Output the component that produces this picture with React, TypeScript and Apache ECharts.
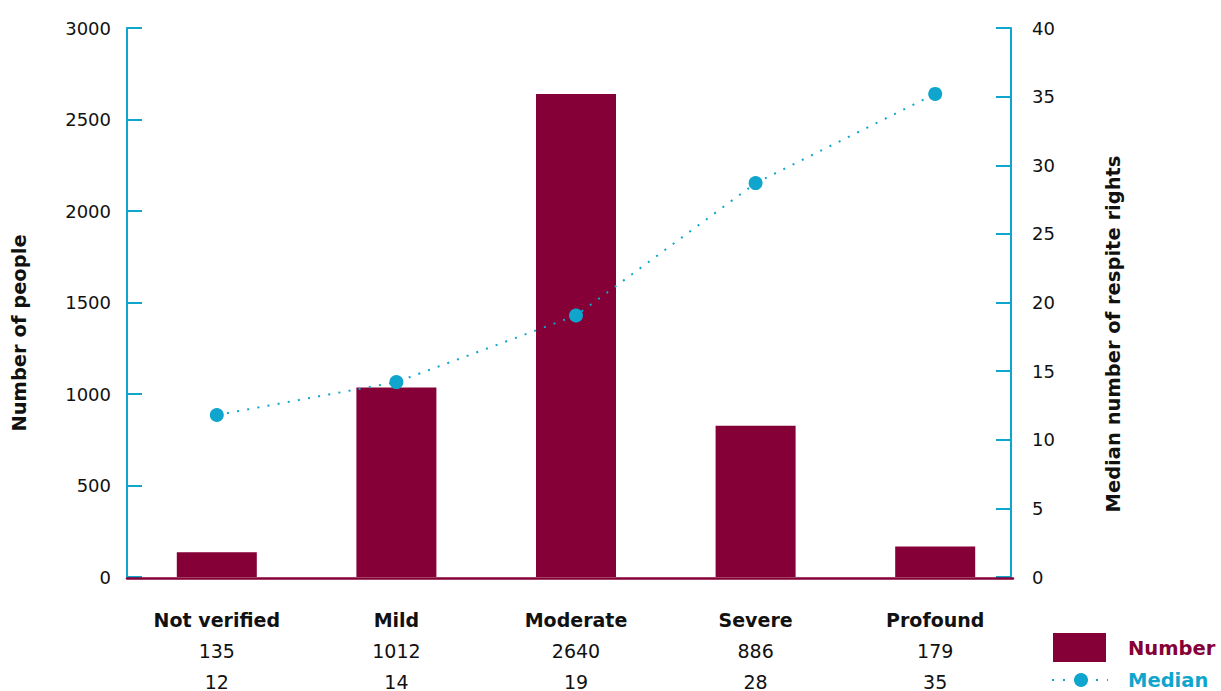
import React, { useEffect, useRef } from "react";
import * as echarts from "echarts";

const categories = ["Not verified", "Mild", "Moderate", "Severe", "Profound"];
// values printed in the table beneath the chart
const peopleCounts = [135, 1012, 2640, 886, 179];
const medianRights = [12, 14, 19, 28, 35];
// heights as drawn in the chart
const barHeights = [135, 1035, 2640, 826, 167];
const medianPoints = [11.8, 14.2, 19.05, 28.7, 35.2];
const leftTicks = [0, 500, 1000, 1500, 2000, 2500, 3000];
const rightTicks = [0, 5, 10, 15, 20, 25, 30, 35, 40];

const MAROON = "#840036";
const TEAL = "#0FA5CC";
const FONT = "'DejaVu Sans', Verdana, sans-serif";

export default function App() {
  const ref = useRef<HTMLDivElement>(null);
  useEffect(() => {
    if (!ref.current) return;
    const chart = echarts.init(ref.current, null, { renderer: "svg" });
    const axisCommon = {
      type: "value" as const,
      splitLine: { show: false },
      axisLine: { show: true, lineStyle: { color: TEAL, width: 2 } },
      axisTick: { show: true, inside: true, length: 15, lineStyle: { color: TEAL, width: 2 } },
    };
    chart.setOption({
      animation: false,
      textStyle: { fontFamily: FONT },
      grid: [
        { left: 127, right: 196, top: 28, bottom: 113, containLabel: false },
        { left: 127, right: 208, top: 28, bottom: 113, containLabel: false },
      ],
      xAxis: [
        {
          type: "category",
          gridIndex: 0,
          data: categories,
          axisLine: { show: false },
          axisTick: { show: false },
          axisLabel: {
            margin: 27,
            interval: 0,
            formatter: (value: string, index: number) =>
              `{c|${value}}\n{n|${peopleCounts[index]}}\n{n|${medianRights[index]}}`,
            rich: {
              c: { fontFamily: FONT, fontSize: 19, fontWeight: "bold", color: "#111", lineHeight: 31 },
              n: { fontFamily: FONT, fontSize: 19, color: "#111", lineHeight: 31 },
            },
          },
        },
        {
          type: "value",
          gridIndex: 1,
          position: "bottom",
          min: 0,
          max: 1,
          axisLine: { show: true, onZero: false, lineStyle: { color: MAROON, width: 2.5 } },
          axisTick: { show: false },
          axisLabel: { show: false },
          splitLine: { show: false },
          z: 5,
        },
      ],
      yAxis: [
        {
          ...axisCommon,
          gridIndex: 0,
          min: leftTicks[0],
          max: leftTicks[leftTicks.length - 1],
          interval: 500,
          position: "left",
          axisLabel: { margin: 16, fontSize: 18, color: "#111", fontFamily: FONT, formatter: (v: number) => String(v) },
        },
        {
          ...axisCommon,
          gridIndex: 0,
          min: rightTicks[0],
          max: rightTicks[rightTicks.length - 1],
          interval: 5,
          position: "right",
          offset: -14,
          axisLabel: { margin: 21, fontSize: 18, color: "#111", fontFamily: FONT, formatter: (v: number) => String(v) },
        },
        {
          type: "value",
          gridIndex: 1,
          show: false,
          min: 0,
          max: 1,
        },
      ],
      series: [
        {
          name: "Number",
          type: "bar",
          data: barHeights,
          barWidth: 80,
          itemStyle: { color: MAROON },
          xAxisIndex: 0,
          yAxisIndex: 0,
        },
        {
          name: "Median",
          type: "line",
          data: medianPoints,
          xAxisIndex: 0,
          yAxisIndex: 1,
          symbol: "circle",
          symbolSize: 14,
          itemStyle: { color: TEAL },
          lineStyle: { color: TEAL, width: 2, type: [2, 8.3], cap: "butt" },
          z: 10,
        },
      ],
      graphic: [
        {
          type: "text",
          x: 19,
          y: 333,
          rotation: Math.PI / 2,
          style: {
            text: "Number of people",
            font: `bold 19.5px ${FONT}`,
            fill: "#111",
            align: "center",
            verticalAlign: "middle",
          },
        },
        {
          type: "text",
          x: 1113,
          y: 334,
          rotation: Math.PI / 2,
          style: {
            text: "Median number of respite rights",
            font: `bold 19.5px ${FONT}`,
            fill: "#111",
            align: "center",
            verticalAlign: "middle",
          },
        },
        {
          type: "rect",
          shape: { x: 1053, y: 633, width: 53, height: 29 },
          style: { fill: MAROON },
        },
        {
          type: "text",
          x: 1128,
          y: 648,
          style: {
            text: "Number",
            font: `bold 19.5px ${FONT}`,
            fill: MAROON,
            align: "left",
            verticalAlign: "middle",
          },
        },
        {
          type: "line",
          shape: { x1: 1052, y1: 680, x2: 1108, y2: 680 },
          style: { stroke: TEAL, lineWidth: 2, lineDash: [2, 9] },
        },
        {
          type: "circle",
          shape: { cx: 1081, cy: 680, r: 7 },
          style: { fill: TEAL },
        },
        {
          type: "text",
          x: 1128,
          y: 680,
          style: {
            text: "Median",
            font: `bold 19.5px ${FONT}`,
            fill: TEAL,
            align: "left",
            verticalAlign: "middle",
          },
        },
      ],
    });
    return () => chart.dispose();
  }, []);
  return (
    <div
      ref={ref}
      style={{ position: "fixed", left: 0, top: 0, width: 1221, height: 691, background: "#fff" }}
    />
  );
}
